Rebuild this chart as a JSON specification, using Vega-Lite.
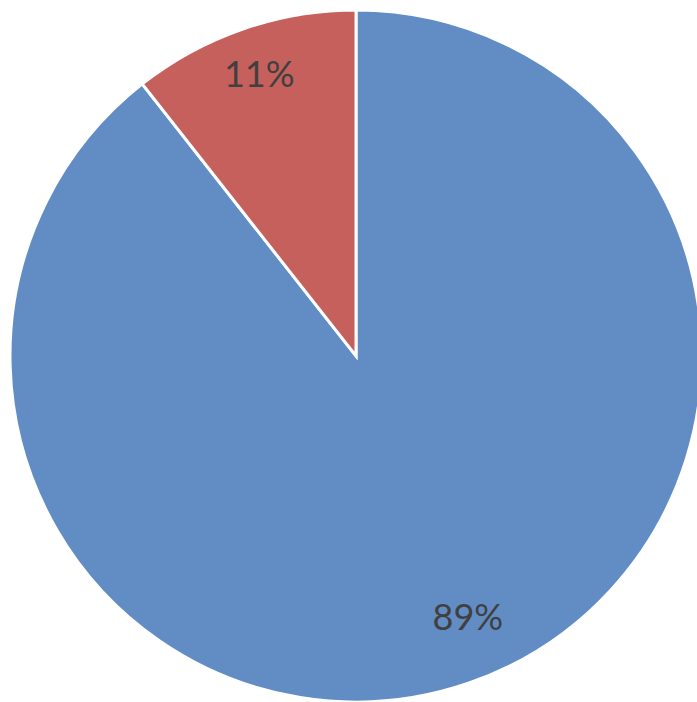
{
  "$schema": "https://vega.github.io/schema/vega-lite/v6.json",
  "width": 692,
  "height": 692,
  "padding": {"left": 10, "top": 10, "right": 0, "bottom": 0},
  "autosize": {"type": "none"},
  "background": "white",
  "view": {"stroke": null},
  "data": {"values": [
    {"category": "A", "value": 89.4, "label": "89%", "order": 1},
    {"category": "B", "value": 10.6, "label": "11%", "order": 2}
  ]},
  "encoding": {
    "theta": {"field": "value", "type": "quantitative", "stack": true},
    "order": {"field": "order", "type": "quantitative"},
    "color": {"field": "category", "type": "nominal", "legend": null,
      "scale": {"domain": ["A", "B"], "range": ["#618DC4", "#C6605C"]}}
  },
  "layer": [
    {"mark": {"type": "arc", "radius": 346, "stroke": "white", "strokeWidth": 3}},
    {"mark": {"type": "text", "radius": 296, "font": "Lato", "fontSize": 36, "fill": "#404040"},
     "encoding": {"text": {"condition": {"test": "datum.category === 'B'", "field": "label"}, "value": ""}}},
    {"mark": {"type": "text", "radius": 287, "font": "Lato", "fontSize": 36, "dx": 18, "dy": -8, "fill": "#404040"},
     "encoding": {"text": {"condition": {"test": "datum.category === 'A'", "field": "label"}, "value": ""}}}
  ]
}
